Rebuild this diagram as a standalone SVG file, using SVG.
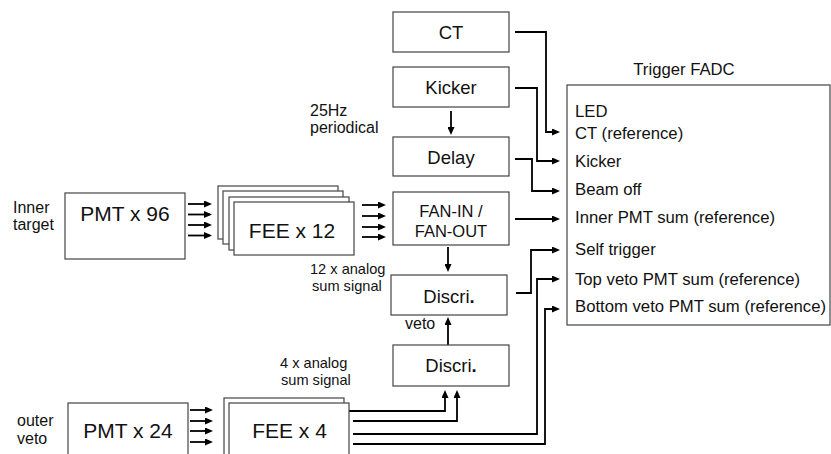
<svg xmlns="http://www.w3.org/2000/svg" width="831" height="454" viewBox="0 0 831 454">
<style>
.box{fill:#fff;stroke:#444;stroke-width:1.2}
.c{fill:none;stroke:#000;stroke-width:1.8;stroke-linejoin:miter;marker-end:url(#ah)}
text{font-family:"Liberation Sans",Arial,sans-serif;fill:#111}
.bl{font-size:18.5px;text-anchor:middle}
.big{font-size:21px;text-anchor:middle}
.fan{font-size:16.5px;text-anchor:middle}
.it{font-size:16.7px}
.side{font-size:16px}
.sm{font-size:14.6px}
</style>
<defs>
<marker id="ah" markerWidth="8" markerHeight="7" refX="6" refY="3.5" orient="auto" markerUnits="userSpaceOnUse">
<path d="M0,0 L8,3.5 L0,7 z" fill="#000"/>
</marker>
</defs>

<g id="connectors">
<path class="c" d="M515,32 H546 V132 H558"/>
<path class="c" d="M515,88 H537 V161 H558"/>
<path class="c" d="M451,111 V133"/>
<path class="c" d="M515,159 H532 V191 H558"/>
<path class="c" d="M515,219 H558"/>
<path class="c" d="M448,247 V270"/>
<path class="c" d="M516,293 H531 V250 H558"/>
<path class="c" d="M353,434 H537 V279 H558"/>
<path class="c" d="M353,444 H545 V309 H558"/>
<path class="c" d="M448,345 V319"/>
<path class="c" d="M349,411 H445 V392"/>
<path class="c" d="M353,421 H457 V392"/>
<path class="c" d="M188,204 H210"/>
<path class="c" d="M188,214.5 H210"/>
<path class="c" d="M188,225 H210"/>
<path class="c" d="M188,235.5 H210"/>
<path class="c" d="M362,205 H384"/>
<path class="c" d="M362,216 H384"/>
<path class="c" d="M362,227 H384"/>
<path class="c" d="M362,237 H384"/>
<path class="c" d="M190,410 H211"/>
<path class="c" d="M190,421 H211"/>
<path class="c" d="M190,431 H211"/>
<path class="c" d="M190,442 H211"/>
</g>

<g id="ct"><rect class="box" x="393" y="12" width="116" height="40"/><text class="bl" x="451" y="39">CT</text></g>
<g id="kicker"><rect class="box" x="393" y="67" width="116" height="40"/><text class="bl" x="451" y="94">Kicker</text></g>
<g id="delay"><rect class="box" x="393" y="137" width="116" height="39"/><text class="bl" x="451" y="164">Delay</text></g>
<g id="fan"><rect class="box" x="393" y="192" width="116" height="53"/><text class="fan" x="451" y="217">FAN-IN /</text><text class="fan" x="451" y="236.5">FAN-OUT</text></g>
<g id="discri1"><rect class="box" x="391" y="275" width="116" height="40"/><text class="bl" x="449" y="303">Discri<tspan font-weight="bold">.</tspan></text></g>
<g id="discri2"><rect class="box" x="393" y="345" width="116" height="41"/><text class="bl" x="451" y="371.5">Discri<tspan font-weight="bold">.</tspan></text></g>

<g id="pmt96"><rect class="box" x="65" y="193" width="120" height="66"/><text class="big" x="125" y="221">PMT x 96</text></g>
<g id="fee12">
<rect class="box" x="218" y="186" width="120" height="53"/>
<rect class="box" x="223" y="191" width="120" height="53"/>
<rect class="box" x="229" y="197" width="120" height="53"/>
<rect class="box" x="234" y="202" width="120" height="53"/>
<text class="big" x="292" y="238">FEE x 12</text>
</g>
<g id="pmt24"><rect class="box" x="68" y="403" width="120" height="60"/><text class="big" x="128" y="438">PMT x 24</text></g>
<g id="fee4">
<rect class="box" x="224" y="398" width="120" height="60"/>
<rect class="box" x="229" y="403" width="120" height="60"/>
<text class="big" x="289.5" y="437.5">FEE x 4</text>
</g>

<g id="fadc">
<text class="it" x="684" y="75" text-anchor="middle">Trigger FADC</text>
<rect class="box" x="567" y="85" width="263" height="240"/>
<text class="it" x="575" y="116.7">LED</text>
<text class="it" x="575" y="139.3">CT (reference)</text>
<text class="it" x="575" y="166.7">Kicker</text>
<text class="it" x="575" y="195">Beam off</text>
<text class="it" x="575" y="223.3">Inner PMT sum (reference)</text>
<text class="it" x="575" y="255">Self trigger</text>
<text class="it" x="575" y="285">Top veto PMT sum (reference)</text>
<text class="it" x="575" y="311.7">Bottom veto PMT sum (reference)</text>
</g>

<g id="labels">
<text class="side" x="13" y="213">Inner</text>
<text class="side" x="13" y="230">target</text>
<text class="side" x="310" y="115.5">25Hz</text>
<text class="side" x="310" y="133">periodical</text>
<text class="sm" x="310" y="274">12 x analog</text>
<text class="sm" x="312" y="291">sum signal</text>
<text class="side" x="405" y="329">veto</text>
<text class="sm" x="280" y="368">4 x analog</text>
<text class="sm" x="281" y="385">sum signal</text>
<text class="side" x="17" y="426">outer</text>
<text class="side" x="17" y="444">veto</text>
</g>
</svg>
